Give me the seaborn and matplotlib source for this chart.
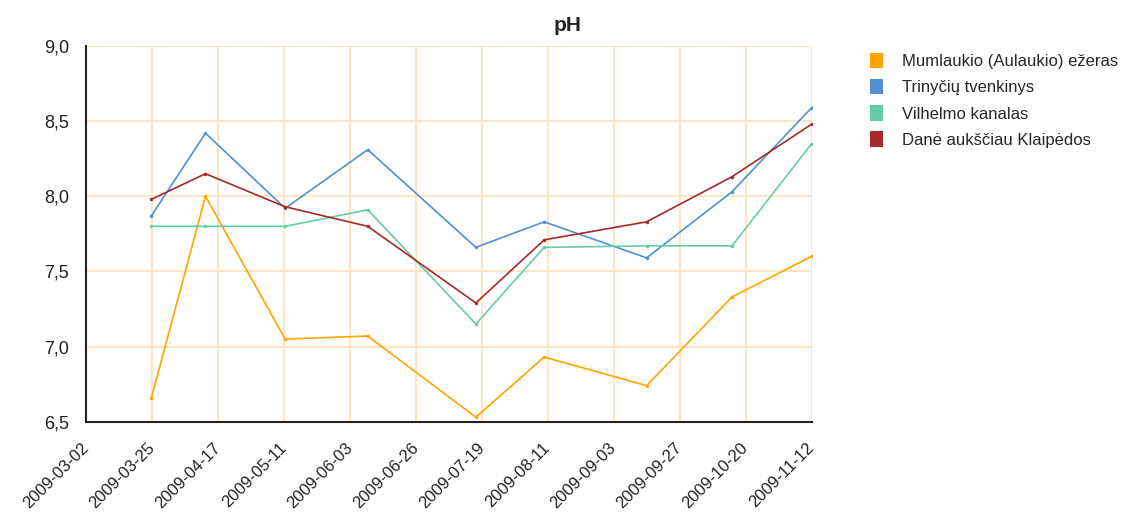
import pandas as pd
import numpy as np
import seaborn as sns
import matplotlib.pyplot as plt
import matplotlib.dates as mdates
from matplotlib.patches import Patch

# matavimu datos
datos = ['2009-03-25', '2009-04-13', '2009-05-11', '2009-06-09', '2009-07-17',
         '2009-08-10', '2009-09-15', '2009-10-15', '2009-11-12']

mumlaukio = [6.66, 8.00, 7.05, 7.07, 6.53, 6.93, 6.74, 7.33, 7.60]
trinyciu = [7.87, 8.42, 7.92, 8.31, 7.66, 7.83, 7.59, 8.03, 8.59]
vilhelmo = [7.80, 7.80, 7.80, 7.91, 7.15, 7.66, 7.67, 7.67, 8.35]
dane = [7.98, 8.15, 7.93, 7.80, 7.29, 7.71, 7.83, 8.13, 8.48]

serijos = ['Mumlaukio (Aulaukio) ežeras', 'Trinyčių tvenkinys',
           'Vilhelmo kanalas', 'Danė aukščiau Klaipėdos']
spalvos = ['#FFA500', '#5191D1', '#66CCA8', '#A52A2A']

x_labels = ['2009-03-02', '2009-03-25', '2009-04-17', '2009-05-11', '2009-06-03',
            '2009-06-26', '2009-07-19', '2009-08-11', '2009-09-03', '2009-09-27',
            '2009-10-20', '2009-11-12']
y_ticks = [6.5, 7.0, 7.5, 8.0, 8.5, 9.0]

df = pd.DataFrame({
    'data': pd.to_datetime(datos * 4),
    'pH': mumlaukio + trinyciu + vilhelmo + dane,
    'vieta': np.repeat(serijos, len(datos)),
})

sns.set_style('white')
plt.rcParams['font.family'] = ['Liberation Sans', 'DejaVu Sans']

fig = plt.figure(figsize=(11.28, 5.14), dpi=100)
ax = fig.add_axes([0.0762, 0.1796, 0.6434, 0.7309])

sns.lineplot(data=df, x='data', y='pH', hue='vieta', hue_order=serijos,
             palette=spalvos, linewidth=1.2, marker='o', markersize=2.5,
             markeredgewidth=0, legend=False, ax=ax)

start = mdates.date2num(pd.Timestamp('2009-03-02'))
end = mdates.date2num(pd.Timestamp('2009-11-12'))
ax.set_xlim(start, end)
ax.set_ylim(6.5, 9.0)

ax.set_xticks(np.linspace(start, end, len(x_labels)))
ax.set_xticks(np.linspace(start, end, 2 * len(x_labels) - 1), minor=True)
ax.set_xticklabels(x_labels, rotation=45, ha='right', va='center',
                   rotation_mode='anchor', fontsize=12, color='#222222')
ax.set_yticks(y_ticks)
ax.set_yticks(np.arange(6.5, 9.01, 0.1), minor=True)
ax.set_yticklabels([f'{v:.1f}'.replace('.', ',') for v in y_ticks],
                   fontsize=13, color='#222222')

ax.tick_params(axis='both', which='both', direction='in', color='#222222', width=1.2)
ax.tick_params(axis='x', which='major', length=7, pad=17)
ax.tick_params(axis='x', which='minor', length=4)
ax.tick_params(axis='y', which='both', length=6, pad=12)

ax.grid(True, which='major', color='#FFE2B8', linewidth=1.2)
ax.set_axisbelow(True)
sns.despine(ax=ax, top=True, right=True)
for s in ['left', 'bottom']:
    ax.spines[s].set_color('#222222')
    ax.spines[s].set_linewidth(1.5)
ax.set_xlabel('')
ax.set_ylabel('')

fig.suptitle('pH', x=0.503, y=0.968, fontsize=15, fontweight='bold', color='#222222')

handles = [Patch(facecolor=c, edgecolor='none') for c in spalvos]
fig.legend(handles, serijos, loc='upper left', bbox_to_anchor=(0.765, 0.91),
           frameon=False, fontsize=12, handlelength=0.8, handleheight=1.05,
           handletextpad=1.15, labelspacing=0.58, borderaxespad=0)

fig.savefig('out.png', dpi=100)
